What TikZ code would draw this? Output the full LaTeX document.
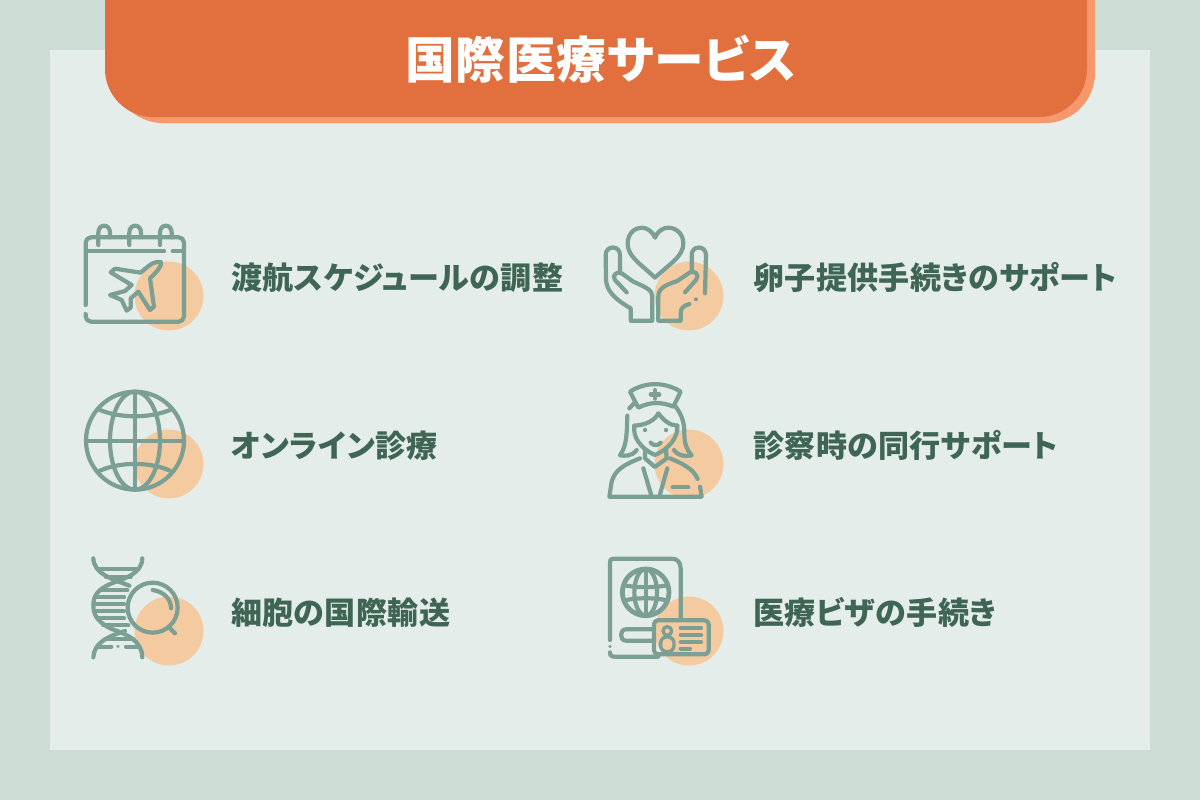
\documentclass[tikz,border=0pt]{standalone}
\usepackage{fontspec}
\setmainfont{Noto Sans CJK JP}[RawFeature={+palt}, LetterSpace=1.0]
\definecolor{pagegreen}{HTML}{CDDDD5}
\definecolor{panelgreen}{HTML}{E4EDE9}
\definecolor{headorange}{HTML}{E2703E}
\definecolor{headlight}{HTML}{F7976C}
\definecolor{icongreen}{HTML}{7BA093}
\definecolor{spotorange}{HTML}{F4CBA0}
\definecolor{labelgreen}{HTML}{3F6655}
\tikzset{
	icon/.style = {draw = icongreen, line width = 1.05mm, line cap = round, line join = round},
	thinicon/.style = {icon, line width = 0.85mm},
	spot/.style = {fill = spotorange},
	label/.style = {anchor = base west, inner sep = 0, text = labelgreen, font = \fontsize{22.1pt}{24pt}\selectfont\bfseries},
	zoomed/.style = {scale = 0.33333}
}
\begin{document}
\begin{tikzpicture}[x = 0.25mm, y = -0.25mm]
	\useasboundingbox (0,0) rectangle (1200,800);
	\fill[pagegreen] (0,0) rectangle (1200,800);
	\fill[panelgreen] (50,50) rectangle (1150,750);
	\fill[headlight, rounded corners = 12.5mm] (113,-60) rectangle (1095,123);
	\fill[headorange, rounded corners = 12mm] (105,-60) rectangle (1087,117);
	\node[anchor = base, inner sep = 0, text = white, font = \fontsize{35.4pt}{38pt}\selectfont\bfseries] (title) at (601,78) {国際医療サービス};

	\fill[spot] (169,296) circle (34.5);
	\fill[spot] (169,464) circle (34.5);
	\fill[spot] (169,631) circle (34.5);
	\fill[spot] (689,296) circle (34.5);
	\fill[spot] (689,464) circle (34.5);
	\fill[spot] (689,631) circle (34.5);

	\node[label] (schedule) at (231,289.5) {渡航スケジュールの調整};
	\node[label] (online) at (231,457.5) {オンライン診療};
	\node[label] (cells) at (231,624.5) {細胞の国際輸送};
	\node[label] (donor) at (753,289.5) {卵子提供手続きのサポート};
	\node[label] (escort) at (753,457.5) {診察時の同行サポート};
	\node[label] (visa) at (753,624.5) {医療ビザの手続き};

	% calendar
	\begin{scope}[shift = {(70,210)}, zoomed]
		\draw[icon, rounded corners = 1.3mm] (47,285) -- (47,82) -- (342,82) -- (342,335) -- (47,335) -- (47,312);
		\draw[icon] (50,124) -- (282,124);
		\draw[icon] (308,124) -- (340,124);
		\draw[icon] (85,105) -- (85,68) .. controls (85,40) and (120,40) .. (120,68) -- (120,82);
		\draw[icon] (178,105) -- (178,68) .. controls (178,40) and (213,40) .. (213,68) -- (213,82);
		\draw[icon] (270,105) -- (270,68) .. controls (270,40) and (305,40) .. (305,68) -- (305,82);
		\draw[icon] (274,157) .. controls (258,152) and (245,158) .. (212,188) -- (135,176) -- (122,187) -- (185,225) -- (165,243) -- (120,255) -- (155,270) -- (170,302) -- (182,293) -- (182,265) -- (205,245) -- (240,300) -- (252,290) -- (240,205) .. controls (268,178) and (272,170) .. cycle;
	\end{scope}

	% globe
	\begin{scope}[shift = {(70,380)}, zoomed]
		\draw[icon] (195,182) circle (147);
		\draw[icon] (195,182) ellipse (75 and 147);
		\draw[icon] (195,35) -- (195,329);
		\draw[icon] (48,182) -- (342,182);
		\draw[icon] (90,90) .. controls (150,115) and (240,115) .. (300,90);
		\draw[icon] (90,272) .. controls (150,245) and (240,245) .. (300,272);
	\end{scope}

	% dna and lens
	\begin{scope}[shift = {(70,545)}, zoomed]
		\draw[icon] (70,40) .. controls (72,85) and (120,100) .. (178,122);
		\draw[icon] (217,40) .. controls (215,85) and (170,98) .. (125,115) .. controls (85,132) and (70,150) .. (70,182) .. controls (70,215) and (90,235) .. (125,252) .. controls (170,268) and (215,285) .. (217,337);
		\draw[icon] (70,337) .. controls (72,295) and (110,275) .. (165,258);
		\draw[icon] (84,72) -- (205,72);
		\draw[icon] (108,96) -- (182,96);
		\draw[icon] (95,136) -- (172,136);
		\draw[icon] (80,157) -- (162,157);
		\draw[icon] (78,178) -- (162,178);
		\draw[icon] (78,199) -- (162,199);
		\draw[icon] (82,220) -- (162,220);
		\draw[icon] (100,241) -- (175,241);
		\draw[icon] (105,282) -- (190,282);
		\draw[icon] (82,305) -- (124,305);
		\draw[icon] (168,305) -- (206,305);
		\fill[icongreen] (144,304) circle (5);
		\draw[icon] (248,188) circle (75);
		\draw[icon] (248,135) .. controls (280,140) and (303,160) .. (303,190);
		\draw[icon] (300,250) -- (315,265);
	\end{scope}

	% hands and heart
	\begin{scope}[shift = {(590,215)}, zoomed]
		\draw[icon] (195,188) .. controls (150,145) and (113,125) .. (113,85) .. controls (113,55) and (135,38) .. (155,38) .. controls (172,38) and (188,50) .. (195,68) .. controls (202,50) and (218,38) .. (235,38) .. controls (257,38) and (280,55) .. (280,85) .. controls (280,125) and (240,145) .. cycle;
		\draw[icon] (90,172) -- (90,120) .. controls (90,90) and (47,90) .. (47,120) -- (48,195) .. controls (50,225) and (70,250) .. (122,280) -- (122,317) -- (187,317) -- (187,245) .. controls (187,225) and (170,218) .. (130,200) -- (95,175) .. controls (80,168) and (65,180) .. (75,195) -- (110,232);
		\draw[icon] (305,170) -- (305,120) .. controls (305,90) and (348,90) .. (348,120) -- (345,235);
		\fill[icongreen] (318,253) circle (6);
		\draw[icon] (298,267) .. controls (280,272) and (272,280) .. (272,295) -- (272,317) -- (205,317) -- (205,245) .. controls (205,220) and (225,210) .. (262,198) -- (300,172) .. controls (315,165) and (330,180) .. (318,195) -- (285,232);
	\end{scope}

	% nurse
	\begin{scope}[shift = {(590,375)}, zoomed]
		\draw[icon] (120,50) .. controls (165,20) and (225,20) .. (272,50) -- (250,95) .. controls (215,80) and (180,80) .. (145,98) -- cycle;
		\draw[icon, line width = 1.2mm] (195,46) -- (195,70);
		\draw[icon, line width = 1.2mm] (183,58) -- (207,58);
		\draw[icon] (132,85) -- (118,100);
		\draw[icon] (112,122) .. controls (110,170) and (112,210) .. (90,241) .. controls (105,243) and (125,245) .. (140,225);
		\draw[icon] (255,92) .. controls (280,125) and (283,150) .. (283,175) .. controls (283,205) and (290,225) .. (305,241) .. controls (285,245) and (265,243) .. (252,225);
		\draw[icon] (133,152) .. controls (170,150) and (195,135) .. (205,115) .. controls (220,135) and (240,152) .. (262,152);
		\draw[icon] (133,152) .. controls (128,185) and (150,220) .. (195,240) .. controls (240,220) and (265,185) .. (262,152);
		\fill[icongreen] (165,165) circle (6.5);
		\fill[icongreen] (228,165) circle (6.5);
		\draw[icon] (182,203) .. controls (190,213) and (204,213) .. (212,203);
		\draw[icon] (165,225) -- (165,250) -- (195,276) -- (230,250) -- (228,225);
		\draw[icon] (150,250) .. controls (100,270) and (75,285) .. (65,320) -- (58,365) -- (335,365) -- (330,335);
		\draw[icon] (240,250) .. controls (275,265) and (310,280) .. (323,312);
		\draw[icon] (160,280) -- (185,365);
		\draw[icon] (232,280) -- (208,365);
		\draw[icon] (248,337) -- (295,337);
	\end{scope}

	% passport and id card
	\begin{scope}[shift = {(590,545)}, zoomed]
		\draw[icon] (272,222) -- (272,70) .. controls (272,50) and (260,41) .. (245,41) -- (70,41) .. controls (62,41) and (60,45) .. (60,52) -- (60,285);
		\fill[icongreen] (60,304) circle (5);
		\draw[icon] (60,322) .. controls (60,332) and (65,335) .. (75,335) -- (205,335);
		\draw[icon, rounded corners = 1mm] (192,226) rectangle (356,328);
		\draw[icon] (192,253) -- (108,253) .. controls (88,253) and (88,287) .. (108,287) -- (192,287);
		\draw[thinicon] (232,258) circle (13);
		\draw[thinicon, rounded corners = 1.5mm] (212,276) rectangle (252,320);
		\draw[icon] (272,248) -- (333,248);
		\draw[icon] (272,270) -- (333,270);
		\draw[icon] (272,291) -- (333,291);
		\draw[icon] (272,311) -- (300,311);
		\draw[icon, line width = 1.2mm] (167,142) circle (70);
		\draw[icon] (167,142) ellipse (34 and 70);
		\draw[icon] (167,72) -- (167,212);
		\draw[icon] (108,122) .. controls (145,128) and (190,128) .. (226,122);
		\draw[icon] (108,165) .. controls (145,158) and (190,158) .. (226,165);
	\end{scope}
\end{tikzpicture}
\end{document}
